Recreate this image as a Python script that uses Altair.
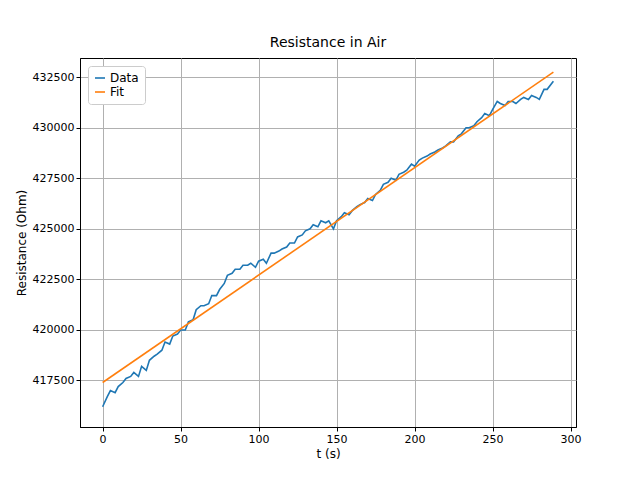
import pandas as pd
import altair as alt

t_data = [0, 3, 5, 8, 10, 13, 15, 18, 20, 23, 25, 28, 30, 33, 35, 38, 40, 43, 45, 48,
          50, 53, 55, 58, 60, 63, 65, 68, 70, 73, 75, 78, 80, 83, 85, 88, 90, 93, 95, 98,
          100, 103, 105, 108, 110, 113, 115, 118, 120, 123, 125, 128, 130, 133, 135, 138,
          140, 143, 145, 148, 150, 153, 155, 158, 160, 163, 165, 168, 170, 173, 175, 178,
          180, 183, 185, 188, 190, 193, 195, 198, 200, 203, 205, 208, 210, 213, 215, 218,
          220, 223, 225, 228, 230, 233, 235, 238, 240, 243, 245, 248, 250, 253, 255, 258,
          260, 263, 265, 268, 270, 273, 275, 278, 280, 283, 285, 289]
r_data = [416200, 416700, 417000, 416900, 417200, 417400, 417600, 417700, 417900, 417700,
          418200, 418000, 418500, 418700, 418800, 419000, 419400, 419300, 419700, 419800,
          420000, 420000, 420400, 420500, 421000, 421200, 421200, 421300, 421700, 421700,
          422000, 422300, 422700, 422800, 423000, 423000, 423200, 423200, 423300, 423100,
          423400, 423500, 423300, 423800, 423800, 423900, 424000, 424100, 424300, 424300,
          424600, 424700, 424900, 425000, 425200, 425100, 425400, 425300, 425400, 425000,
          425400, 425600, 425800, 425700, 425900, 426100, 426200, 426300, 426500, 426400,
          426700, 426900, 427200, 427300, 427500, 427400, 427700, 427800, 427900, 428200,
          428100, 428400, 428500, 428600, 428700, 428800, 428900, 429000, 429100, 429300,
          429300, 429600, 429700, 430000, 430000, 430100, 430300, 430500, 430700, 430600,
          430900, 431300, 431200, 431100, 431300, 431300, 431200, 431400, 431500, 431400,
          431600, 431500, 431400, 431900, 431900, 432300]

# Linear fit end points
t_fit = [0, 289]
r_fit = [417400, 432750]

df = pd.concat([
    pd.DataFrame({"t": t_data, "R": r_data, "series": "Data"}),
    pd.DataFrame({"t": t_fit, "R": r_fit, "series": "Fit"}),
])

x = alt.X("t:Q", title="t (s)", scale=alt.Scale(domain=[-14.5, 303.5], nice=False),
          axis=alt.Axis(values=[0, 50, 100, 150, 200, 250, 300]))
y = alt.Y("R:Q", title="Resistance (Ohm)",
          scale=alt.Scale(domain=[415200, 433450], nice=False, zero=False),
          axis=alt.Axis(values=[417500, 420000, 422500, 425000, 427500, 430000, 432500],
                        format="d"))

chart = alt.Chart(df).mark_line(strokeWidth=1.6).encode(
    x=x, y=y,
    color=alt.Color("series:N", title=None,
                    scale=alt.Scale(domain=["Data", "Fit"], range=["#1f77b4", "#ff7f0e"]),
                    legend=alt.Legend(orient="none", legendX=8, legendY=8,
                                      symbolType="stroke", symbolStrokeWidth=1.6,
                                      labelFontSize=12, padding=6,
                                      strokeColor="#cccccc", fillColor="white",
                                      cornerRadius=3)),
    detail="series:N",
).properties(
    width=496, height=369,
    title=alt.TitleParams("Resistance in Air", fontSize=14, fontWeight="normal"),
    autosize=alt.AutoSizeParams(type="none"),
    padding={"left": 72, "top": 50, "right": 56, "bottom": 45},
).configure_axis(
    grid=True, gridColor="#b0b0b0", gridWidth=1,
    domainColor="black", tickColor="black", tickSize=4,
    labelFont="DejaVu Sans", titleFont="DejaVu Sans",
    labelFontSize=11, titleFontSize=12, titleFontWeight="normal",
    labelColor="black", titleColor="black",
).configure_view(stroke="black", strokeWidth=1).configure_title(
    font="DejaVu Sans", offset=8
).configure_legend(labelFont="DejaVu Sans")

chart.save("out.html", embed_options={"renderer": "svg", "actions": False})
